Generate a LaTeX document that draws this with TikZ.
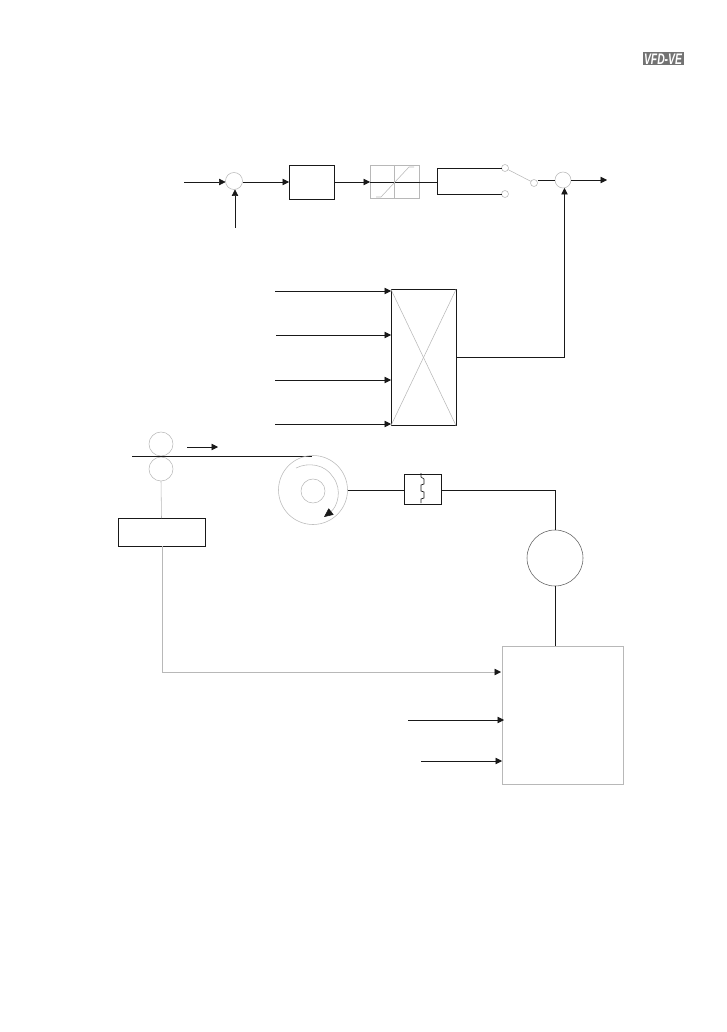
\documentclass[tikz,border=0pt]{standalone}
\usepackage{fontspec}
\setmainfont{Liberation Sans}
\usetikzlibrary{arrows.meta}
\definecolor{lg}{gray}{0.72}
\definecolor{ink}{gray}{0.1}
\tikzset{
  x=1pt,y=-1pt,
  wire/.style={draw=ink,line width=0.65pt},
  faint/.style={draw=lg,line width=0.55pt},
  arr/.style={wire,-{Triangle[length=6.5pt,width=6.5pt]}},
  farr/.style={faint,-{Triangle[length=6.5pt,width=6.5pt,color=ink]}},
  darkbox/.style={draw=ink,line width=0.65pt,inner sep=0pt,outer sep=0pt},
  greybox/.style={draw=lg,line width=0.6pt,inner sep=0pt,outer sep=0pt},
  ring/.style={circle,draw=lg,line width=0.55pt,inner sep=0pt,outer sep=0pt},
}
\newcommand{\boxat}[6]{\node[#1,minimum width=#4pt,minimum height=#5pt] (#2) at (#3) {#6};}
\begin{document}
\begin{tikzpicture}
\useasboundingbox (0,0) rectangle (726,1032);
% logo
\node[fill=black!55,text=white,inner sep=0pt,minimum width=41pt,minimum height=13pt] (logo) at (663,59) {\resizebox{38pt}{10.5pt}{\bfseries\itshape VFD-VE}};
% free ends
\coordinate (r1in) at (184,182);
\coordinate (r1fb) at (235,228);
\coordinate (r2out) at (607,180);
\coordinate (fbk) at (564.5,357);
\foreach \n/\y/\xs in {a/291/275,b/335/276,c/380/275,d/424/275}{\coordinate (in\n) at (\xs,\y);}
% top chain
\node[ring,minimum size=17pt] (s1) at (234,181) {};
\node[ring,minimum size=16pt] (s2) at (563,180) {};
\boxat{darkbox}{ctl}{311.5,182}{45}{34}{}
\boxat{greybox}{lim}{394.5,181.5}{49}{33}{}
\node[ring,minimum size=7pt] (k1) at (505,168) {};
\node[ring,minimum size=7pt] (k2) at (505,194) {};
\node[ring,minimum size=7pt] (k3) at (534,183) {};
\coordinate (br) at (437,182);
\draw[arr] (r1in) -- (s1.west |- r1in);
\draw[arr] (r1fb) -- (s1.south -| r1fb);
\draw[arr] (s1.east |- ctl.west) -- (ctl.west);
\draw[arr] (ctl.east) -- (lim.west |- ctl.east);
\draw[wire] (lim.west |- br) -- (br);
\draw[wire] (k1.west) -- (437,168) -- (437,194) -- (k2.west);
\draw[faint] (k1) -- (k3);
\draw[faint] (lim.north) -- (lim.south);
\draw[faint] (376,197) -- (381,197) -- (409,167) -- (414,167);
\draw[wire] (k3.east |- s2.west) -- (s2.west);
\draw[arr] (s2.east) -- (r2out);
% X box
\boxat{darkbox}{xb}{423.5,357.5}{65}{136}{}
\draw[faint] (xb.north west) -- (xb.south east);
\draw[faint] (xb.north east) -- (xb.south west);
\foreach \n in {a,b,c,d}{\draw[arr] (in\n) -- (xb.west |- in\n);}
\draw[arr] (xb.east |- fbk) -- (fbk) -- (fbk |- s2.south);
% rollers and web
\node[ring,minimum size=24pt] (ru) at (161,444) {};
\node[ring,minimum size=24pt] (rl) at (161,469) {};
\coordinate (wa) at (132,456);
\coordinate (wb) at (312,456);
\coordinate (da) at (187,447);
\coordinate (db) at (218,447);
\draw[wire] (wa) -- (wb);
\draw[arr] (da) -- (db);
\node[ring,minimum size=69pt] (reel) at (313,490) {};
\node[ring,minimum size=24pt] (hub) at (313,491) {};
\draw[faint,-{Triangle[length=9pt,width=8pt,color=ink]}] (296,468) .. controls (308,462) and (325,464) .. (333,477) .. controls (343,490) and (337,507) .. (324,517);
\boxat{darkbox}{fuse}{422.5,489}{37}{30}{}
\draw[wire] (421,473) -- (421,477) -- (424,479) -- (424,484) -- (421,485) -- (421,491) -- (424,492) -- (424,498) -- (421,499) -- (421,503);
\node[ring,draw=ink!70,minimum size=56pt] (mot) at (555,558) {};
\coordinate (fl) at (348,490.5);
\draw[wire] (fl) -- (fuse.west |- fl);
\draw[wire] (fuse.east |- fl) -- (mot.north |- fl) -- (mot.north);
\boxat{darkbox}{sens}{161.5,532}{87}{28}{}
\boxat{greybox}{drv}{562.5,715}{121}{138}{}
\coordinate (i1) at (408,720);
\coordinate (i2) at (421,761);
\draw[wire] (mot.south) -- (drv.north -| mot.south);
\draw[faint] (rl.south) -- (sens.north);
\draw[farr] (162,546) -- (162,672) -- (501,672);
\draw[arr] (i1) -- (504,720);
\draw[arr] (i2) -- (502,761);
\end{tikzpicture}
\end{document}
